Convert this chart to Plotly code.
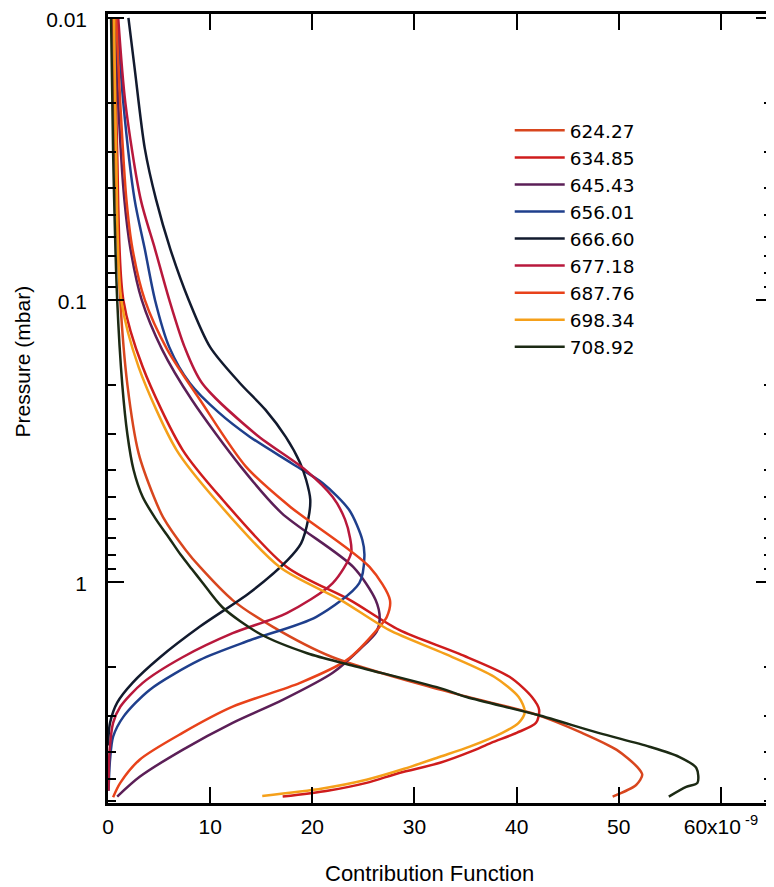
import plotly.graph_objects as go

# ---- data (pressure in mbar, contribution function in units of 1e-9) ----
labels = ["624.27", "634.85", "645.43", "656.01", "666.60", "677.18", "687.76", "698.34", "708.92"]
colors = ["#d8461e", "#cf1c1c", "#5b1f57", "#1f3f8c", "#121a2e", "#b8183c", "#e8421a", "#f5a01a", "#1c2a14"]

p_624 = [0.01, 0.03, 0.1, 0.2, 0.35, 0.5, 0.59, 0.77, 0.885, 1.16, 1.44, 1.85, 2.41, 2.96, 3.43, 3.94, 4.53, 4.83, 5.25, 5.77]
v_624 = [0.5, 0.7, 1.2, 1.9, 3.0, 4.5, 5.4, 7.6, 9.0, 12.2, 16.1, 22.0, 32.5, 42.0, 46.4, 49.8, 51.8, 52.3, 51.7, 49.4]

p_634 = [0.01, 0.03, 0.1, 0.173, 0.34, 0.51, 0.885, 1.16, 1.48, 1.80, 2.17, 2.56, 2.84, 3.16, 3.43, 3.72, 4.0, 4.38, 4.76, 5.16, 5.5, 5.77]
v_634 = [0.7, 0.9, 1.5, 3.4, 7.3, 11.2, 17.5, 23.7, 28.5, 34.4, 39.3, 41.5, 42.2, 41.9, 40.0, 37.5, 35.5, 32.5, 28.5, 25.3, 21.5, 17.1]

p_645 = [0.01, 0.02, 0.044, 0.066, 0.1, 0.15, 0.226, 0.39, 0.57, 0.885, 1.16, 1.35, 1.5, 1.74, 2.1, 2.62, 3.16, 3.94, 4.91, 5.77]
v_645 = [0.7, 1.0, 1.6, 2.2, 3.3, 5.3, 8.2, 13.0, 17.0, 24.0, 26.2, 26.6, 26.3, 24.6, 22.0, 17.1, 12.2, 7.3, 3.1, 0.9]

p_656 = [0.01, 0.02, 0.044, 0.066, 0.1, 0.147, 0.197, 0.25, 0.306, 0.38, 0.446, 0.555, 0.71, 0.81, 1.01, 1.33, 1.61, 1.89, 2.41, 3.01, 3.54, 4.27, 5.5]
v_656 = [0.9, 1.5, 2.6, 3.6, 4.6, 6.0, 8.0, 10.8, 13.9, 18.0, 21.0, 23.6, 24.9, 25.1, 24.6, 20.4, 13.9, 9.0, 4.1, 1.5, 0.5, 0.2, 0.05]

p_666 = [0.01, 0.015, 0.029, 0.044, 0.066, 0.1, 0.147, 0.197, 0.245, 0.306, 0.378, 0.435, 0.51, 0.6, 0.73, 0.835, 1.09, 1.44, 1.85, 2.28, 2.68, 3.16, 3.8]
v_666 = [2.0, 2.6, 3.6, 4.7, 6.1, 7.9, 10.0, 12.9, 15.4, 17.4, 18.8, 19.4, 19.8, 19.6, 18.9, 17.6, 13.9, 9.0, 5.1, 2.4, 0.9, 0.2, 0.0]

p_677 = [0.01, 0.02, 0.044, 0.066, 0.1, 0.147, 0.197, 0.3, 0.4, 0.5, 0.6, 0.7, 0.79, 1.01, 1.29, 1.52, 1.85, 2.28, 2.77, 3.16, 4.0, 5.5]
v_677 = [1.0, 1.7, 3.2, 4.6, 6.0, 7.5, 9.2, 14.5, 19.3, 22.0, 23.2, 23.7, 23.8, 22.0, 17.5, 12.2, 7.3, 3.4, 1.2, 0.5, 0.15, 0.05]

p_687 = [0.01, 0.02, 0.044, 0.066, 0.1, 0.15, 0.226, 0.39, 0.54, 0.885, 1.16, 1.33, 1.44, 1.89, 2.28, 2.77, 3.43, 4.27, 5.16, 5.8]
v_687 = [0.8, 1.2, 1.8, 2.4, 3.6, 5.8, 9.0, 13.5, 17.8, 25.6, 27.6, 27.3, 26.6, 23.4, 18.8, 12.2, 7.3, 3.1, 1.2, 0.5]

p_698 = [0.01, 0.03, 0.1, 0.173, 0.34, 0.51, 0.885, 1.16, 1.48, 1.80, 2.17, 2.56, 2.89, 3.16, 3.43, 3.84, 4.17, 4.6, 5.03, 5.4, 5.74]
v_698 = [0.6, 0.8, 1.3, 3.0, 6.7, 10.5, 16.8, 22.8, 27.5, 33.0, 37.8, 40.2, 40.8, 40.2, 38.6, 35.4, 32.5, 29.0, 25.3, 21.0, 15.1]

p_708 = [0.01, 0.03, 0.1, 0.2, 0.3, 0.4, 0.5, 0.6, 0.7, 0.8, 0.9, 1.0, 1.23, 1.53, 1.79, 1.97, 2.38, 2.56, 2.96, 3.43, 3.84, 4.17, 4.57, 5.16, 5.33, 5.77]
v_708 = [0.3, 0.5, 0.9, 1.4, 1.9, 2.5, 3.4, 4.7, 6.0, 7.1, 8.2, 9.2, 11.2, 14.9, 19.5, 23.7, 32.5, 35.1, 42.0, 48.0, 53.0, 55.9, 57.6, 57.7, 56.6, 54.9]

x_tickvals = [0, 10, 20, 30, 40, 50, 60]
x_ticktext = ["0", "10", "20", "30", "40", "50", "60x10<sup>\u00a0-9</sup>"]
y_tickvals = [0.01, 0.1, 1]
y_ticktext = ["0.01", "0.1", "1"]
y_minor = [0.02, 0.03, 0.04, 0.05, 0.06, 0.07, 0.08, 0.09,
           0.2, 0.3, 0.4, 0.5, 0.6, 0.7, 0.8, 0.9,
           2, 3, 4, 5, 6]

series_p = [p_624, p_634, p_645, p_656, p_666, p_677, p_687, p_698, p_708]
series_v = [v_624, v_634, v_645, v_656, v_666, v_677, v_687, v_698, v_708]

FONT = "Arial, 'Liberation Sans', Helvetica, sans-serif"
LEGEND_FONT = "'DejaVu Sans', Arial, sans-serif"
Y_RANGE = [0.784, -2.014]

fig = go.Figure()
for lab, col, pp, vv in zip(labels, colors, series_p, series_v):
    fig.add_trace(go.Scatter(
        x=vv, y=pp, mode="lines", name=lab,
        line=dict(color=col, width=2.5, shape="spline", smoothing=0.8),
    ))

# transparent copy on the right-hand axis so that its (minor) ticks get drawn
fig.add_trace(go.Scatter(x=v_708, y=p_708, yaxis="y2", mode="lines",
                         line=dict(width=0), opacity=0, showlegend=False, hoverinfo="skip"))

# the page body adds an 8px margin: figure is 8px smaller and margins shifted
fig.update_layout(
    width=766, height=879,
    margin=dict(l=100, r=2, t=6, b=84, autoexpand=False),
    paper_bgcolor="white", plot_bgcolor="white",
    font=dict(family=FONT, size=21, color="black"),
    showlegend=True,
    legend=dict(x=0.605, y=0.876, xanchor="left", yanchor="top",
                bgcolor="rgba(0,0,0,0)", borderwidth=0,
                font=dict(family=LEGEND_FONT, size=18.5, color="black"),
                tracegroupgap=0, itemwidth=50),
    xaxis=dict(
        range=[0, 65], showgrid=False, zeroline=False, automargin=False,
        showline=True, linecolor="black", linewidth=2.5, mirror="ticks",
        ticks="inside", ticklen=16, tickwidth=2, tickcolor="black",
        tickvals=x_tickvals, ticktext=x_ticktext,
        tickfont=dict(family=FONT, size=21, color="black"),
        ticklabelstandoff=3, ticklabeloverflow="allow",
    ),
    yaxis=dict(
        type="log", range=Y_RANGE, autorange=False, automargin=False,
        showgrid=False, zeroline=False,
        showline=True, linecolor="black", linewidth=2.5, mirror="ticks",
        ticks="inside", ticklen=16, tickwidth=2, tickcolor="black",
        tickvals=y_tickvals, ticktext=y_ticktext,
        tickfont=dict(family=FONT, size=21, color="black"),
        ticklabelstandoff=14, ticklabeloverflow="allow", ticklabelshift=-2,
        minor=dict(tickvals=y_minor, ticks="inside", ticklen=8, tickwidth=2, tickcolor="black", showgrid=False),
    ),
    yaxis2=dict(
        type="log", range=Y_RANGE, autorange=False, automargin=False,
        overlaying="y", side="right", anchor="x",
        showgrid=False, zeroline=False,
        showline=True, linecolor="black", linewidth=2.5,
        ticks="inside", ticklen=13, tickwidth=2, tickcolor="black",
        tickvals=y_tickvals, showticklabels=False,
        minor=dict(tickvals=y_minor, ticks="inside", ticklen=7, tickwidth=2, tickcolor="black", showgrid=False),
    ),
    annotations=[
        dict(text="Contribution Function", xref="paper", yref="paper",
             x=0.484, y=-0.089, xanchor="center", yanchor="middle",
             showarrow=False, font=dict(family=FONT, size=22, color="black")),
        dict(text="Pressure (mbar)", xref="paper", yref="paper",
             x=-0.129, y=0.56, xanchor="center", yanchor="middle", textangle=-90,
             showarrow=False, font=dict(family=FONT, size=21, color="black")),
    ],
)

fig.write_html("out.html")
